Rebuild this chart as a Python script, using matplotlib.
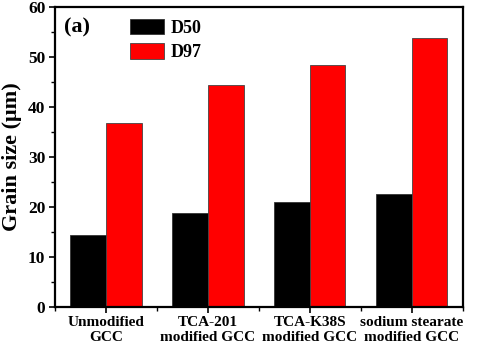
import matplotlib
matplotlib.use("Agg")
import matplotlib.pyplot as plt
import numpy as np

categories = ["Unmodified\nGCC", "TCA-201\nmodified GCC", "TCA-K38S\nmodified GCC", "sodium stearate\nmodified GCC"]
d50 = [14.4, 18.7, 21.0, 22.5]
d97 = [36.7, 44.4, 48.4, 53.8]
series_names = ["D50", "D97"]
yticks = [0, 10, 20, 30, 40, 50, 60]

plt.rcParams['font.family'] = ['Liberation Serif', 'DejaVu Serif']
plt.rcParams['font.weight'] = 'bold'

fig = plt.figure(figsize=(4.84, 3.5), dpi=100)
ax = fig.add_axes([0.1136, 0.1237, 0.8424, 0.857])

x = np.arange(len(categories))
w = 0.35
ax.bar(x - w/2, d50, w, color='black', edgecolor='#333333', linewidth=0.6, label=series_names[0])
ax.bar(x + w/2, d97, w, color='#ff0000', edgecolor='#444444', linewidth=0.6, label=series_names[1])

ax.set_xlim(-0.5, 3.5)
ax.set_ylim(0, 60)
ax.set_yticks(yticks)
ax.set_yticks(np.arange(5, 60, 10), minor=True)
ax.set_xticks(x)
ax.set_xticks(np.arange(-0.5, 3.6, 1.0), minor=True)
ax.set_xticklabels(categories, fontsize=11, fontweight='bold', linespacing=1.2)
ax.set_yticklabels([str(v) for v in yticks], fontsize=12.5, fontweight='bold')
ax.tick_params(axis='both', which='major', direction='out', length=4, width=1.2, right=False, top=False)
ax.tick_params(axis='both', which='minor', direction='out', length=3, width=1.0, right=False, top=False)
ax.tick_params(axis='x', which='major', pad=2.5)
ax.tick_params(axis='y', which='major', pad=3)
for s in ax.spines.values():
    s.set_linewidth(1.6)

ax.set_ylabel("Grain size (μm)", fontsize=16, fontweight='bold', labelpad=4)

ax.text(0.022, 0.965, "(a)", transform=ax.transAxes, fontsize=16, fontweight='bold', va='top', ha='left')
leg = ax.legend(loc='upper left', bbox_to_anchor=(0.184, 0.96), frameon=False,
                prop={'weight': 'bold', 'size': 13}, handlelength=1.9, handleheight=0.95,
                handletextpad=0.35, labelspacing=0.35, borderaxespad=0.0, borderpad=0.0)

fig.savefig("out.png", dpi=100)
